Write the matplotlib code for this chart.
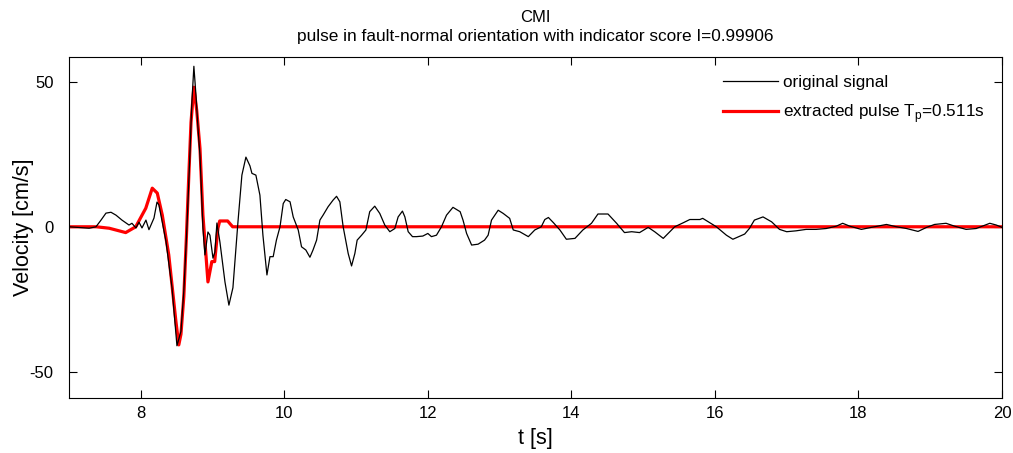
import matplotlib
matplotlib.use("Agg")
import matplotlib.pyplot as plt
from matplotlib.lines import Line2D

plt.rcParams['font.family'] = ['Liberation Sans', 'DejaVu Sans']
plt.rcParams['axes.unicode_minus'] = False

# original ground-motion velocity signal (t [s], v [cm/s])
orig_t = [7.0, 7.28, 7.376, 7.446, 7.515, 7.585, 7.655, 7.738, 7.836, 7.877, 7.933, 7.975,
          8.017, 8.072, 8.114, 8.184, 8.226, 8.253, 8.351, 8.435, 8.504, 8.56, 8.60, 8.64,
          8.68, 8.71, 8.74, 8.77, 8.80, 8.825, 8.866, 8.894, 8.936, 8.964, 9.006, 9.033,
          9.061, 9.103, 9.173, 9.228, 9.284, 9.354, 9.409, 9.465, 9.521, 9.549, 9.604,
          9.660, 9.702, 9.758, 9.80, 9.845, 9.89, 9.94, 9.985, 10.02, 10.08, 10.124,
          10.194, 10.24, 10.30, 10.357, 10.40, 10.45, 10.496, 10.54, 10.61, 10.68, 10.728,
          10.774, 10.82, 10.89, 10.937, 10.983, 11.015, 11.077, 11.137, 11.19, 11.26,
          11.33, 11.40, 11.47, 11.54, 11.586, 11.646, 11.68, 11.726, 11.786, 11.84, 11.93,
          12.0, 12.05, 12.12, 12.19, 12.26, 12.35, 12.45, 12.49, 12.54, 12.61, 12.70,
          12.79, 12.84, 12.887, 12.98, 13.05, 13.14, 13.19, 13.28, 13.40, 13.49, 13.58,
          13.63, 13.68, 13.75, 13.84, 13.93, 14.05, 14.16, 14.28, 14.37, 14.51, 14.63,
          14.74, 14.84, 14.95, 15.07, 15.16, 15.28, 15.44, 15.56, 15.65, 15.79, 15.83,
          16.02, 16.16, 16.25, 16.415, 16.48, 16.55, 16.67, 16.79, 16.90, 17.0, 17.13,
          17.27, 17.41, 17.55, 17.69, 17.78, 17.88, 18.04, 18.18, 18.39, 18.53, 18.67,
          18.83, 18.95, 19.06, 19.22, 19.34, 19.50, 19.64, 19.83, 19.92, 20.0]
orig_v = [0.0, -0.5, 0.0, 2.3, 4.7, 5.0, 4.0, 2.3, 0.6, 1.2, -0.4, 1.6,
          -0.4, 2.3, -1.0, 3.0, 8.5, 7.5, -5.0, -21.0, -41.0, -36.0, -22.0, -2.0,
          22.0, 42.0, 55.3, 45.0, 33.0, 24.6, -0.4, -9.7, -1.8, -2.9, -10.8, -8.7,
          1.3, -5.3, -19.0, -27.0, -21.0, 1.6, 17.8, 24.0, 21.0, 18.4, 17.8,
          10.9, -2.9, -16.6, -10.3, -10.3, -4.6, 0.0, 8.0, 9.4, 8.6, 3.4,
          -1.1, -6.9, -8.0, -10.5, -8.0, -4.6, 2.3, 4.0, 6.9, 9.2, 10.5,
          8.6, 0.0, -9.2, -13.5, -9.2, -4.6, -2.9, -1.1, 5.2, 7.1,
          4.6, 0.6, -1.7, -0.6, 3.4, 5.4, 3.4, -1.7, -3.4, -3.4, -3.2,
          -2.3, -3.4, -2.9, 0.0, 4.0, 6.7, 5.2, 2.3, -2.3, -6.3, -6.0,
          -4.6, -2.9, 2.3, 5.7, 4.6, 2.9, -1.1, -1.7, -3.4, -1.1, 0.0,
          2.5, 3.2, 1.4, -1.1, -4.3, -4.0, -1.1, 1.2, 4.4, 4.4, 1.2,
          -2.0, -1.7, -2.0, -0.2, -1.7, -4.0, 0.0, 1.4, 2.5, 2.5, 2.9,
          0.0, -2.9, -4.3, -2.5, -0.6, 2.3, 3.4, 1.7, -0.9, -1.7, -1.4,
          -0.9, -0.9, -0.6, 0.2, 1.2, 0.2, -0.9, -0.2, 0.8, 0.0, -0.6,
          -1.6, -0.2, 0.8, 1.2, 0.2, -0.9, -0.6, 1.2, 0.6, -0.2]

# extracted pulse
pulse_t = [7.0, 7.38, 7.56, 7.79, 7.93, 8.07, 8.16, 8.23, 8.30, 8.39, 8.49, 8.53,
           8.56, 8.60, 8.635, 8.67, 8.70, 8.74, 8.78, 8.825, 8.866, 8.908, 8.936,
           8.99, 9.03, 9.075, 9.10, 9.145, 9.21, 9.28, 9.38, 20.0]
pulse_v = [0.0, 0.0, -0.5, -2.0, 0.0, 6.4, 13.3, 11.6, 4.0, -9.7, -32.7, -40.7,
           -37.0, -24.0, -4.0, 18.0, 36.0, 48.1, 40.0, 27.0, 4.0, -9.7, -19.0,
           -12.0, -12.0, -0.5, 2.0, 2.0, 2.0, 0.0, 0.0, 0.0]

title_main = "CMI"
title_sub = "pulse in fault-normal orientation with indicator score I=0.99906"
label_orig = "original signal"
label_pulse = "extracted pulse T$_\\mathregular{p}$=0.511s"
x_ticks = [8, 10, 12, 14, 16, 18, 20]
y_ticks = [-50, 0, 50]

W, H = 1013, 453
fig = plt.figure(figsize=(W / 100, H / 100), dpi=100)
ax = fig.add_axes([69 / W, 1 - 398 / H, (1002 - 69) / W, (398 - 57) / H])

ax.plot(pulse_t, pulse_v, color='#ff0000', lw=2.3, zorder=2)
ax.plot(orig_t, orig_v, color='black', lw=0.9, zorder=3)

ax.set_xlim(7, 20)
ax.set_ylim(-59, 58.5)
ax.set_xticks(x_ticks)
ax.set_yticks(y_ticks)
ax.tick_params(direction='in', length=6, width=0.8, top=True, right=True,
               labelsize=12)
ax.tick_params(axis='y', pad=11)
ax.tick_params(axis='x', pad=6)
for s in ax.spines.values():
    s.set_linewidth(0.8)

ax.set_xlabel("t [s]", fontsize=15.5, labelpad=5)
ax.set_ylabel("Velocity [cm/s]", fontsize=15.5, labelpad=-3)

fig.text(535.5 / W, 1 - 17 / H, title_main, ha='center', va='center', fontsize=12)
fig.text(535.5 / W, 1 - 37 / H, title_sub, ha='center', va='center', fontsize=12.4)

handles = [Line2D([], [], color='black', lw=0.9), Line2D([], [], color='#ff0000', lw=2.3)]
ax.legend(handles, [label_orig, label_pulse], loc='upper left',
          bbox_to_anchor=(723 / W, 1 - 75 / H), bbox_transform=fig.transFigure,
          frameon=False, fontsize=12.3, handlelength=3.2, handletextpad=0.3,
          labelspacing=0.7, borderpad=0, borderaxespad=0)

fig.savefig("out.png", dpi=100)
